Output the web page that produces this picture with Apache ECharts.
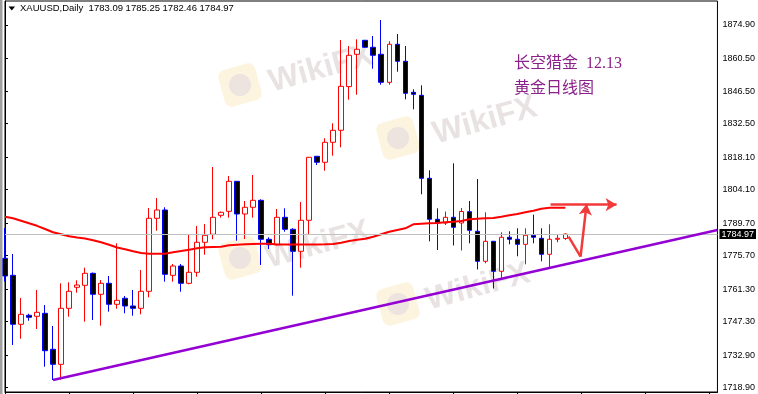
<!DOCTYPE html>
<html><head><meta charset="utf-8">
<script src="https://cdn.jsdelivr.net/npm/echarts@6/dist/echarts.min.js"></script>
<style>html,body{margin:0;padding:0;background:#fff}#c{width:758px;height:394px}</style>
</head><body><div id="c"></div>
<script>
// ---- data (daily XAUUSD candles, oldest first) ----
const openP  = [1774.55,1767.24,1746.17,1750.04,1749.61,1750.90,1735.42,1728.96,1753.05,1762.08,1762.94,1768.10,1759.07,1763.80,1754.77,1757.35,1754.04,1753.05,1760.36,1791.76,1795.33,1767.24,1771.24,1763.80,1768.53,1781.44,1784.88,1793.05,1794.77,1807.67,1793.61,1796.49,1799.50,1782.73,1780.40,1792.19,1787.03,1777.57,1790.90,1818.43,1815.85,1824.45,1829.61,1848.40,1862.30,1868.32,1865.31,1862.30,1850.25,1866.60,1859.29,1845.95,1844.66,1808.96,1791.33,1789.74,1792.19,1789.74,1794.60,1786.17,1773.27,1781.87,1768.96,1783.59,1782.73,1780.58,1784.45,1783.16,1776.28,1782.73,1783.09];
const closeP = [1766.94,1746.17,1750.47,1749.18,1751.33,1734.81,1728.96,1753.05,1760.36,1763.07,1768.10,1759.07,1763.80,1754.77,1756.49,1754.04,1753.05,1760.36,1791.76,1795.33,1767.67,1771.24,1763.80,1768.53,1781.44,1784.45,1792.19,1794.34,1807.67,1793.61,1796.49,1799.50,1782.73,1780.40,1792.19,1787.03,1777.57,1790.90,1818.00,1815.85,1824.45,1829.61,1848.53,1861.87,1864.45,1865.31,1861.87,1850.25,1866.60,1859.29,1845.52,1845.09,1808.96,1791.33,1789.74,1792.19,1787.89,1794.68,1786.60,1773.27,1781.87,1768.96,1783.59,1782.73,1780.58,1784.45,1783.59,1776.28,1782.73,1783.16,1784.97];
const lowP   = [1764.58,1737.26,1739.97,1747.72,1744.15,1727.93,1722.21,1722.40,1749.44,1759.76,1747.29,1748.02,1745.57,1751.59,1752.88,1750.90,1749.87,1750.47,1757.78,1786.43,1764.49,1764.49,1760.19,1763.37,1766.64,1776.10,1782.73,1792.02,1792.02,1782.13,1782.86,1792.02,1771.67,1778.56,1780.15,1786.00,1758.47,1770.51,1784.58,1814.68,1812.23,1818.68,1822.30,1842.77,1844.92,1865.20,1856.10,1849.22,1849.22,1854.81,1842.94,1838.64,1802.08,1781.87,1778.13,1788.88,1780.06,1777.91,1781.01,1769.74,1772.41,1761.57,1765.52,1780.58,1775.42,1771.97,1781.01,1773.27,1770.69,1781.44,1782.46];
const highP  = [1787.59,1776.40,1757.48,1750.73,1760.92,1754.47,1745.44,1763.80,1764.23,1765.09,1770.51,1768.45,1765.22,1766.94,1781.01,1758.34,1760.92,1769.52,1796.19,1800.49,1796.49,1772.10,1772.10,1785.01,1788.45,1789.31,1813.82,1794.68,1809.95,1807.80,1799.20,1810.38,1799.93,1783.59,1795.76,1796.06,1787.46,1798.77,1818.13,1818.56,1826.17,1832.62,1868.45,1865.87,1868.75,1868.45,1870.17,1877.05,1867.89,1871.03,1865.87,1847.24,1848.96,1812.41,1796.06,1794.68,1815.42,1796.19,1799.20,1808.66,1794.34,1782.00,1785.74,1786.17,1787.46,1787.46,1793.31,1787.46,1789.18,1784.88,1785.25];
const maP    = [1792.45,1791.76,1790.73,1789.61,1788.53,1787.16,1785.74,1784.88,1784.02,1783.50,1783.07,1782.30,1781.44,1780.36,1779.20,1778.43,1777.57,1776.83,1776.53,1776.53,1776.53,1777.14,1777.70,1778.25,1778.86,1779.29,1779.42,1779.54,1780.15,1780.40,1780.58,1780.71,1780.83,1780.83,1780.49,1780.49,1780.49,1780.49,1780.49,1780.49,1780.58,1780.71,1781.27,1782.00,1782.56,1782.99,1783.85,1784.88,1786.00,1786.73,1787.46,1789.18,1789.44,1789.61,1789.74,1790.04,1790.30,1790.60,1791.33,1791.59,1791.76,1791.89,1792.45,1793.05,1793.61,1794.34,1795.03,1795.89,1796.32,1796.32,1796.32];
const slotCount = 90; // incl. empty right shift
const yTickLabels = ['1874.90','1860.50','1846.50','1832.50','1818.10','1804.10','1789.70','1775.70','1761.30','1747.30','1732.90','1718.90'];
const trendLine = [[6, 1722.21], [89, 1786.73]];
const arrowH = [[68.15, 1797.61], [76.4, 1797.61]];
const zigzag = [[70.4, 1783.85], [71.9, 1775.24], [72.65, 1797.91]];
const headerText = 'XAUUSD,Daily  1783.09 1785.25 1782.46 1784.97';
const note1 = '长空猎金  12.13';
const note2 = '黄金日线图';
const yMin = 1717.05, yMax = 1885.22;

const categories = Array.from({length: slotCount}, (_, i) => String(i));
const candles = openP.map((o, i) => [o, closeP[i], lowP[i], highP[i]]);
const lastClose = closeP[closeP.length - 1];

const wmItems = [];
[[240,85,321,69],[398,138,485,121],[240,258,318,245],[398,304,478,287]].forEach(p => {
  wmItems.push({type:'rect', x:p[0], y:p[1], originX:0, originY:0, rotation:0.27, z:0,
    shape:{x:-19,y:-19,width:38,height:38,r:7}, style:{fill:'#fcf0d6', opacity:0.75}});
  wmItems.push({type:'circle', x:p[0], y:p[1], z:0, shape:{cx:0,cy:0,r:11}, style:{fill:'#e9dede', opacity:0.8}});
  wmItems.push({type:'text', x:p[2], y:p[3], rotation:0.27, z:0,
    style:{text:'WikiFX', fill:'rgba(205,190,190,0.45)', font:'bold 32px "Liberation Sans", Arial', align:'center', verticalAlign:'middle'}});
});

const chart = echarts.init(document.getElementById('c'), null, {renderer:'canvas'});
chart.setOption({
  animation: false,
  backgroundColor: '#ffffff',
  grid: {left: 5, right: 40, top: 1, bottom: 2, show: true, borderColor: '#000', borderWidth: 1, backgroundColor: 'transparent'},
  xAxis: [{
    type: 'category', data: categories, boundaryGap: false,
    axisLine: {show: true, lineStyle: {color: '#000'}},
    axisTick: {show: true, length: 3, interval: 7, lineStyle: {color: '#000'}},
    axisLabel: {show: false}, splitLine: {show: false}
  }, {
    type: 'value', min: 0, max: slotCount - 1, show: false, splitLine: {show: false}
  }],
  yAxis: {
    type: 'value', position: 'right', min: yMin, max: yMax, scale: true,
    axisLine: {show: true, lineStyle: {color: '#000'}},
    axisTick: {show: true, length: 3, lineStyle: {color: '#000'}, customValues: yTickLabels.map(Number)},
    axisLabel: {show: true, customValues: yTickLabels.map(Number), formatter: v => v.toFixed(2),
      color: '#000', fontSize: 9, fontFamily: '"Liberation Sans", Arial', margin: 5},
    splitLine: {show: false}
  },
  graphic: [
    {type:'rect', left:0, top:0, z:100, shape:{width:2.5, height:394}, style:{fill:'#a0a0a0'}},
    ...wmItems,
    {type:'polygon', z:100, shape:{points:[[8.5,6.5],[15,6.5],[11.75,10.5]]}, style:{fill:'#000'}},
    {type:'text', left:20, top:3, z:100, style:{text: headerText, fill:'#000', font:'9.5px "Liberation Sans", Arial'}},
    {type:'text', left:514, top:56, z:100, style:{text: note1, fill:'#8b2289', font:'16px "Liberation Serif", "Noto Sans CJK SC"'}},
    {type:'text', left:514, top:79, z:100, style:{text: note2, fill:'#8b2289', font:'16px "Noto Sans CJK SC"'}}
  ],
  series: [
    {
      type: 'candlestick', data: candles, barWidth: 5, z: 3,
      itemStyle: {color: '#ffffff', color0: '#000000', borderColor: '#ff0000', borderColor0: '#0000ff', borderWidth: 1, borderColorDoji: '#ff0000'},
      markLine: {
        silent: true, symbol: ['none','none'], animation: false,
        lineStyle: {color: '#c0c0c0', type: 'solid', width: 1},
        label: {show: true, position: 'end', distance: 2, formatter: lastClose.toFixed(2), color: '#fff',
          backgroundColor: '#000', padding: [1, 2, 0, 2], fontSize: 9, fontFamily: '"Liberation Sans", Arial'},
        data: [{yAxis: lastClose}]
      }
    },
    {
      type: 'line', data: maP, showSymbol: false, z: 4,
      lineStyle: {color: '#ff0000', width: 2}, itemStyle: {color: '#ff0000'}
    },
    {
      type: 'line', xAxisIndex: 1, data: trendLine, showSymbol: false, z: 5,
      lineStyle: {color: '#9400d3', width: 2.5}
    },
    {
      type: 'line', xAxisIndex: 1, data: [], z: 6,
      markLine: {
        silent: true, animation: false, label: {show: false},
        lineStyle: {color: '#f23a3a', width: 2.5, type: 'solid'},
        symbolSize: [10, 11],
        data: [
          [{coord: arrowH[0], symbol: 'none'}, {coord: arrowH[1], symbol: 'arrow'}],
          [{coord: zigzag[0], symbol: 'none'}, {coord: zigzag[1], symbol: 'none'}],
          [{coord: zigzag[1], symbol: 'none'}, {coord: zigzag[2], symbol: 'arrow'}]
        ]
      }
    }
  ]
});
</script></body></html>
